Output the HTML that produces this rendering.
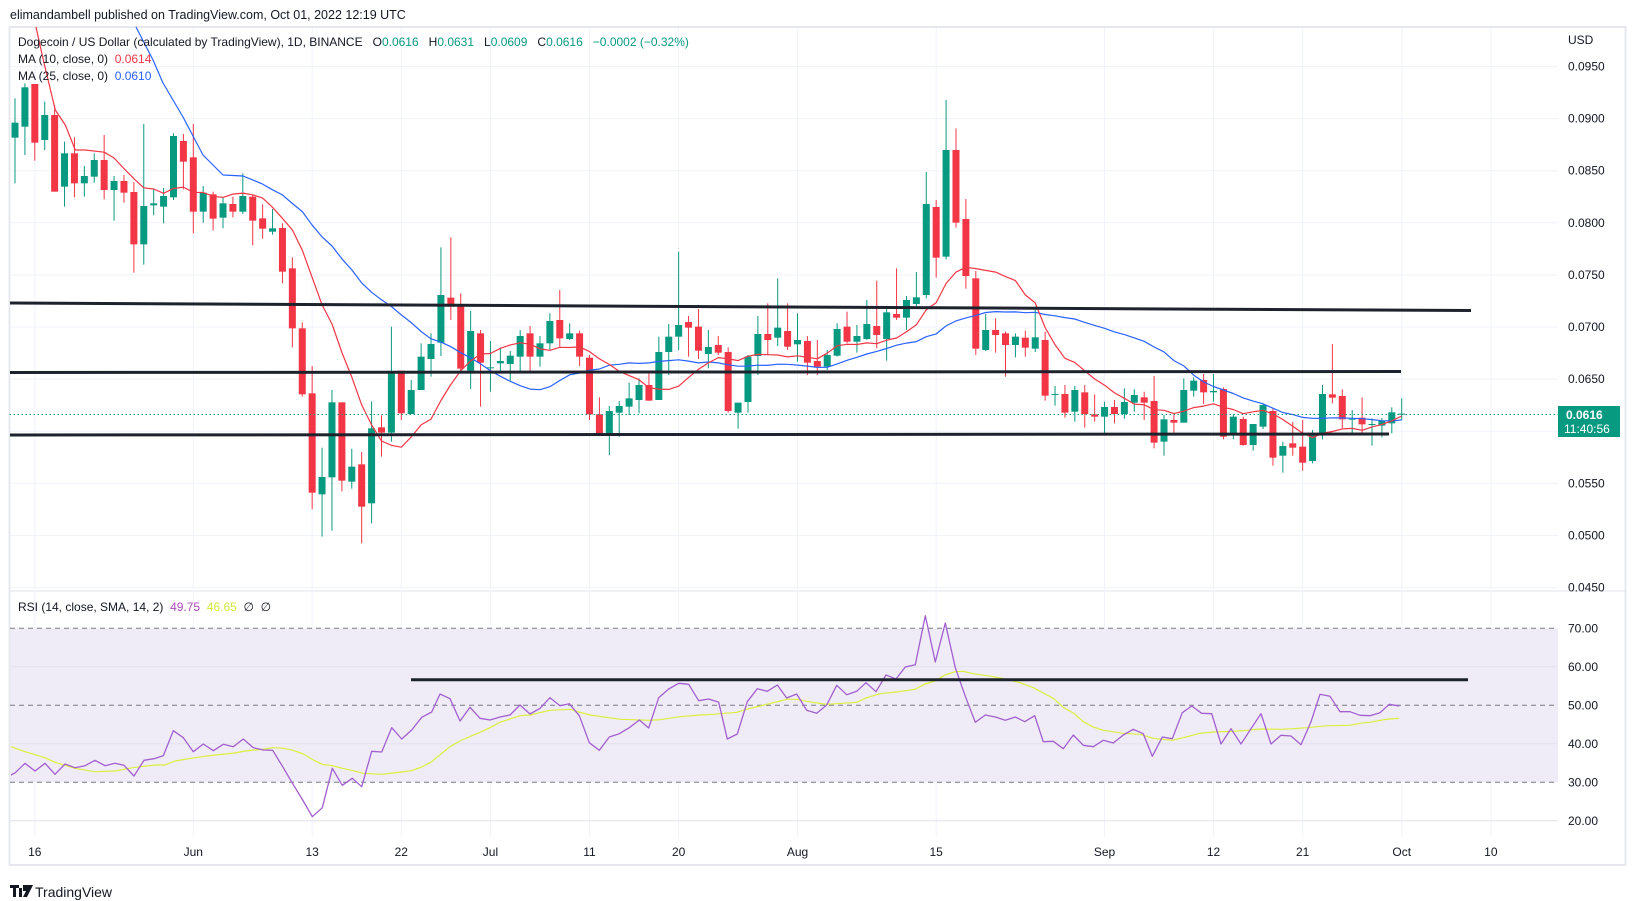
<!DOCTYPE html>
<html><head><meta charset="utf-8">
<style>
html,body{margin:0;padding:0;background:#fff;}
svg{display:block;font-family:"Liberation Sans",sans-serif;}
text{white-space:pre;}
</style></head>
<body>
<svg id="c" width="1633" height="901" viewBox="0 0 1633 901" xmlns="http://www.w3.org/2000/svg">
<rect width="1633" height="901" fill="#fff"/>
<text x="10" y="19" font-size="12.5" fill="#131722">elimandambell published on TradingView.com, Oct 01, 2022 12:19 UTC</text>
<rect x="9.5" y="27" width="1616" height="838" fill="none" stroke="#e6e8ee" stroke-width="2"/>
<line x1="9.5" y1="591" x2="1625" y2="591" stroke="#e0e3eb" stroke-width="1"/>
<g id="grid"></g>
<rect x="10.5" y="628.3" width="1547.5" height="154" fill="#efecf7"/>
<g id="rsigrid"></g>
<g id="candles"></g>
<g id="lines"></g>
<line x1="9.5" y1="414.5" x2="1558" y2="414.5" stroke="#089981" stroke-width="1" stroke-dasharray="1.5,2.5"/>
<line x1="10" y1="303" x2="1471" y2="310.5" stroke="#1e222d" stroke-width="3"/>
<line x1="10" y1="372.5" x2="1401" y2="371.5" stroke="#1e222d" stroke-width="3"/>
<line x1="10" y1="435" x2="1389" y2="434" stroke="#1e222d" stroke-width="3"/>
<line x1="411" y1="679.7" x2="1468" y2="679.7" stroke="#1e222d" stroke-width="3"/>
<g font-size="12" fill="#131722">
<text x="18" y="46" xml:space="preserve">Dogecoin / US Dollar (calculated by TradingView), 1D, BINANCE   O<tspan fill="#089981">0.0616</tspan>   H<tspan fill="#089981">0.0631</tspan>   L<tspan fill="#089981">0.0609</tspan>   C<tspan fill="#089981">0.0616</tspan>   <tspan fill="#089981">−0.0002 (−0.32%)</tspan></text>
<text x="18" y="63" xml:space="preserve">MA (10, close, 0)  <tspan fill="#F23645">0.0614</tspan></text>
<text x="18" y="80" xml:space="preserve">MA (25, close, 0)  <tspan fill="#2962FF">0.0610</tspan></text>
<text x="18" y="611" xml:space="preserve">RSI (14, close, SMA, 14, 2)  <tspan fill="#ab47bc">49.75</tspan>  <tspan fill="#d4e83a">46.65</tspan>  ∅  ∅</text>
<text x="1568" y="44">USD</text>
</g>
<g id="axis" font-size="12" fill="#131722"></g>
<rect x="1558" y="406" width="62" height="31" fill="#089981"/>
<text x="1566" y="419" font-size="12" font-weight="bold" fill="#fff">0.0616</text>
<text x="1564" y="433" font-size="12" fill="#fff">11:40:56</text>
<g transform="translate(10,885)">
<path d="M0 0h9v3H6v9H3V3H0z M9 3 h3 v9 h-3z" fill="#131722"/>
<path d="M13 0h10l-6 12h-4l3-6h-3z" fill="#131722"/>
</g>
<text x="35" y="897" font-size="14" fill="#131722">TradingView</text>
</svg>
<script>
const NS="http://www.w3.org/2000/svg";
function el(p,t,a){const e=document.createElementNS(NS,t);for(const k in a)e.setAttribute(k,a[k]);p.appendChild(e);return e;}
const grid=document.getElementById('grid'),rg=document.getElementById('rsigrid'),cg=document.getElementById('candles'),lg=document.getElementById('lines'),ax=document.getElementById('axis');
const py=p=>66.5+(0.095-p)*10420;
for(let i=0;i<=10;i++){const p=0.095-i*0.005;const y=py(p);
 el(grid,'line',{x1:10,y1:y,x2:1558,y2:y,stroke:'#f0f3fa','stroke-width':1});
 if(Math.abs(p-0.06)>1e-6){const t=el(ax,'text',{x:1568,y:y+4});t.textContent=p.toFixed(4);}}
const ry=r=>628.3+(70-r)*3.85;
[60,40,20].forEach(r=>el(rg,'line',{x1:10,y1:ry(r),x2:1558,y2:ry(r),stroke:'#e4e2ee','stroke-width':1}));
[70,50,30].forEach(r=>el(rg,'line',{x1:10,y1:ry(r),x2:1558,y2:ry(r),stroke:'#787b86','stroke-width':1,'stroke-dasharray':'5,4'}));
[70,60,50,40,30,20].forEach(r=>{const t=el(ax,'text',{x:1568,y:ry(r)+4});t.textContent=r.toFixed(2);});
const X=d=>193.3+d*9.905;
const tl=[["16",-16],["Jun",0],["13",12],["22",21],["Jul",30],["11",40],["20",49],["Aug",61],["15",75],["Sep",92],["12",103],["21",112],["Oct",122],["10",131]];
tl.forEach(([s,d])=>{const x=X(d);el(grid,'line',{x1:x,y1:28,x2:x,y2:837,stroke:'#f0f3fa','stroke-width':1});
 const t=el(ax,'text',{x:x,y:856,'text-anchor':'middle'});t.textContent=s;});
const A=[[233,115,370,188],[200,70,285,82],[72,72,302,248],[240,125,270,165],[165,135,395,395],[380,245,440,280],[280,232,412,370],[370,318,410,348],[350,280,368,300],[300,225,418,390],
[390,348,482,363],[363,345,428,398],[396,366,638,553],[553,192,614,438],[436,388,466,430],[440,384,490,408],[412,220,420,228],[243,222,388,305],[292,192,520,455],[455,378,488,398],
[403,395,512,476],[473,413,505,430],[432,410,472,455],[455,340,462,408],[410,405,556,482],[475,433,536,506],[515,447,524,505],[504,490,670,635],[625,592,862,805],[805,787,1010,1003],
[1000,918,1348,1298],[1303,1163,1430,1251],[1252,990,1412,1027],[1027,1027,1294,1262],[1265,1166,1286,1220],[1213,1176,1450,1340],[1330,1024,1390,1105],[1102,1066,1190,1118],[1118,800,1145,936],[932,932,1080,1060],
[1062,960,1062,990],[990,850,990,890],[897,820,950,852],[848,562,888,705],[713,532,780,740],[732,700,940,926],[932,753,987,813],[820,810,1040,908],[925,843,995,922],[910,862,940,903],
[912,873,962,887],[890,810,935,828],[820,798,940,890],[890,828,920,850],[850,760,870,783],[780,690,860,835],[837,790,840,820],[820,812,918,890],[893,885,1080,1063],[1063,1012,1120,1120],
[1120,1038,1185,1053],[1058,1023,1130,1038],[1040,968,1065,1015],[1020,955,1060,975],[975,937,1022,1022],[1020,830,1020,876],[876,792,945,830],[830,575,870,795],[786,768,890,803],[800,747,897,872],
[882,810,925,861],[855,828,885,878],[876,862,1058,1053],[1058,1028,1106,1028],[1026,885,1058,890],[888,768,945,822],[822,730,885,840],[833,655,858,803],[813,730,870,860],[853,760,905,840],
[843,828,945,908],[903,840,945,920],[920,870,930,885],[887,790,890,807],[800,755,850,845],[845,795,878,828],[837,720,840,792],[798,662,865,825],[837,745,902,757],[762,625,780,773],
[773,708,810,720],[732,636,740,712],[705,336,715,432],[441,420,653,593],[590,120,598,270],[270,205,503,488],[477,417,686,648],[655,633,885,866],[870,762,873,810],[810,775,878,825],
[820,815,950,855],[855,820,892,830],[833,812,890,863],[866,740,876,832],[840,815,1022,1007],[1003,978,1037,1002],[1002,975,1073,1058],[1055,978,1085,990],[997,975,1103,1062],[1063,1003,1085,1070],
[1070,1025,1120,1041],[1041,1020,1090,1062],[1062,985,1076,1026],[1028,988,1055,1005],[1012,995,1080,1028],[1023,948,1165,1148],[1145,1065,1187,1078],[1080,1065,1118,1088],[1088,955,1088,990],[992,952,1010,962],
[960,942,1032,997],[997,942,1025,993]];
const B=[[267,262,418,410],[402,343,418,350],[357,350,437,435],[435,372,452,372],[380,310,387,315],[333,325,497,473],[467,425,518,438],[430,366,467,443],[440,360,512,488],[483,390,490,405],
[402,255,418,282],[283,132,310,293],[288,268,385,358],[358,330,398,356],[353,292,398,373],[375,355,437,372],[377,354,412,362],[370,322,400,337],[343,295,360,341]];
const C=[];
A.forEach(a=>C.push(a.map(v=>60+v/3)));
B.forEach(a=>C.push(a.map(v=>300+v/3)));
C.forEach((c,i)=>{const x=X(i-18);const [o,h,l,cl]=c;const g=cl<=o;const col=g?'#089981':'#F23645';
 el(cg,'line',{x1:x,y1:h,x2:x,y2:l,stroke:col,'stroke-width':1});
 const t=Math.min(o,cl),b=Math.max(o,cl);el(cg,'rect',{x:x-3.5,y:t,width:7,height:Math.max(1,b-t),fill:col});});
function poly(pts,col,w){el(lg,'polyline',{points:pts.map(p=>p[0].toFixed(1)+','+p[1].toFixed(1)).join(' '),fill:'none',stroke:col,'stroke-width':w,'stroke-linejoin':'round'});}
function ma(n){const r=[];for(let i=n-1;i<C.length;i++){let s=0;for(let j=i-n+1;j<=i;j++)s+=C[j][3];r.push([X(i-18),s/n]);}return r;}
const m10=[[36,27],[43.3,60],[55.3,110],[65.3,125],[75.3,150],[85,150]].concat(ma(10));
const m25=[[136,27],[153,60],[163,83],[183,117],[203,155],[223,175],[243,176]].concat(ma(25));
poly(m25,'#2962FF',1.2);poly(m10,'#F23645',1.2);
function conv(arr,off,lo){return arr.map(p=>[off+p[0]/3,595+p[1]/3]).filter(p=>p[0]>lo);}
const r7=[[33,540],[46,533],[75,505],[105,528],[135,505],[165,538],[195,507],[225,518],[255,512],[285,496],[315,512],[345,505],[372,511],[402,543],[432,496],[462,491],[490,482],[520,407],[550,428],[580,470],[610,447],[640,467],[670,448],[700,455],[730,432],[760,458],[790,465],[818,466],[848,515],[878,566],[908,615],[937,665],[967,638],[997,520],[1027,571],[1057,550],[1085,575],[1115,469],[1145,471],[1175,398],[1205,432],[1235,405],[1265,367],[1295,351],[1320,297],[1350,311],[1380,378],[1410,337],[1440,370],[1470,375],[1500,366],[1530,360],[1560,330]];
const r8=[[0,366],[30,360],[60,331],[90,357],[120,340],[150,308],[180,332],[208,326],[238,362],[268,443],[298,466],[328,426],[358,416],[388,398],[418,375],[446,399],[476,308],[506,282],[536,265],[566,268],[596,317],[626,312],[656,322],[682,432],[712,417],[742,320],[772,281],[802,289],[832,270],[860,309],[890,297],[920,346],[950,355],[980,330],[1010,271],[1040,299],[1070,289],[1098,263],[1128,290],[1158,240],[1188,252],[1216,216],[1246,209],[1276,62],[1306,201],[1336,84],[1366,218],[1396,304],[1426,382],[1456,360],[1486,366],[1516,376],[1546,366],[1560,373]];
const r9=[[0,373],[14,376],[44,366],[74,380],[104,362],[130,440],[160,439],[190,461],[220,420],[250,451],[280,455],[310,436],[340,444],[370,420],[400,403],[430,416],[457,484],[487,426],[517,431],[547,353],[575,333],[605,355],[635,356],[663,447],[693,401],[723,447],[753,401],[783,356],[813,447],[843,421],[873,423],[903,449],[933,380],[960,298],[990,304],[1020,350],[1050,350],[1080,361],[1110,362],[1140,353],[1168,328],[1198,333]];
const y7=[[33,455],[75,470],[135,488],[165,502],[225,520],[285,530],[345,528],[405,517],[465,510],[495,510],[525,498],[585,488],[645,480],[705,474],[735,468],[795,462],[820,458],[850,460],[880,466],[910,477],[940,495],[967,508],[997,512],[1027,520],[1060,527],[1090,535],[1145,538],[1205,531],[1235,527],[1265,516],[1295,500],[1325,475],[1350,455],[1385,435],[1440,412],[1470,398],[1500,382],[1560,362]];
const y8=[[0,380],[60,362],[90,360],[150,346],[210,343],[240,352],[270,360],[360,373],[450,376],[480,374],[540,365],[600,360],[640,358],[710,352],[740,343],[800,328],[860,313],[890,313],[920,319],[950,324],[980,328],[1010,326],[1070,322],[1100,308],[1140,296],[1190,291],[1245,283],[1275,267],[1305,258],[1335,240],[1365,230],[1390,229],[1420,236],[1480,245],[1530,255],[1560,263]];
const y9=[[0,252],[40,265],[100,278],[130,294],[160,310],[190,337],[220,354],[250,380],[280,396],[310,406],[370,415],[420,418],[460,430],[517,436],[550,428],[600,415],[640,411],[700,409],[740,406],[780,402],[840,403],[880,401],[920,398],[960,394],[990,392],[1050,391],[1080,385],[1110,382],[1140,376],[1168,372],[1198,370]];
poly(conv(y7,0,0).concat(conv(y8,500,520),conv(y9,1000,1020)),'#dcf03a',1.2);
poly(conv(r7,0,0).concat(conv(r8,500,520),conv(r9,1000,1020)),'#a35fcf',1.3);
</script>
</body></html>
